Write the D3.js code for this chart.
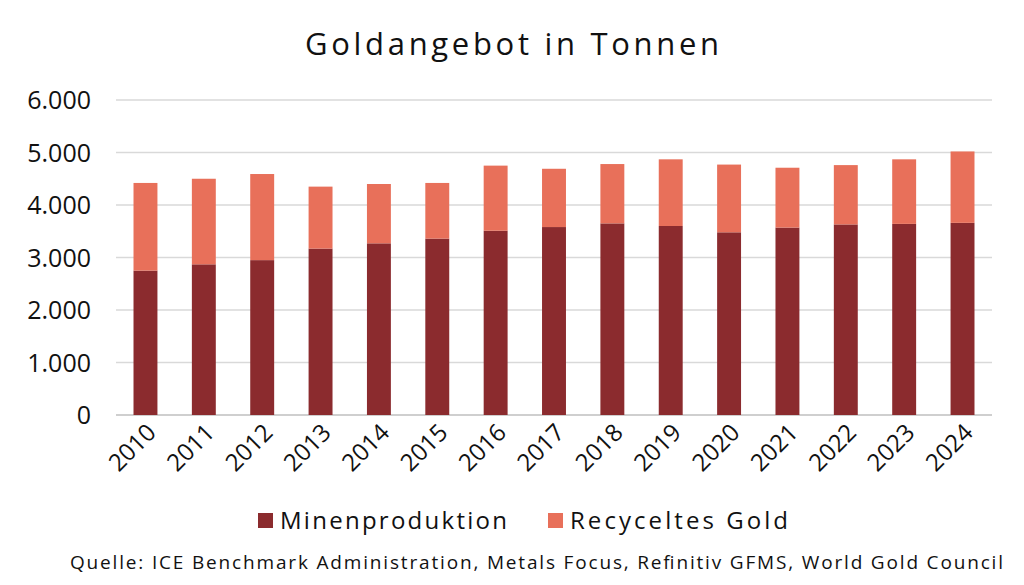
<!DOCTYPE html>
<html><head><meta charset="utf-8">
<script src="https://cdn.jsdelivr.net/npm/d3@7"></script>
<style>body{margin:0;background:#fff}text{font-family:"Open Sans",sans-serif}</style>
</head><body>
<script>
const years = ["2010","2011","2012","2013","2014","2015","2016","2017","2018","2019","2020","2021","2022","2023","2024"];
const mine = [2750,2870,2950,3170,3270,3360,3510,3580,3650,3600,3480,3570,3630,3640,3660];
const total = [4420,4500,4590,4350,4400,4420,4750,4690,4780,4870,4770,4710,4760,4870,5020];
const recycled = total.map((t,i)=>t-mine[i]);
const yTicks = [0,1000,2000,3000,4000,5000,6000];
const seriesNames = ["Minenproduktion","Recyceltes Gold"];
const colors = ["#8B2B2E","#E8705A"];

const W=1024,H=585;
const svg=d3.select("body").append("svg").attr("width",W).attr("height",H);
const x=d3.scaleBand().domain(years).range([116,992]).paddingInner(0.59).paddingOuter(0.3);
const y=d3.scaleLinear().domain([0,6000]).range([415,100]);
const fmt=d=>d3.format(",")(d).replace(/,/g,".");

svg.append("text").attr("x",512).attr("y",55).attr("text-anchor","middle")
  .attr("font-size",31).attr("fill","#111").attr("textLength",414).text("Goldangebot in Tonnen");

svg.append("g").selectAll("line").data(yTicks).join("line")
  .attr("x1",116).attr("x2",992).attr("y1",d=>y(d)).attr("y2",d=>y(d))
  .attr("stroke",d=>d===0?"#bfbfbf":"#d9d9d9").attr("stroke-width",1.3);
svg.append("g").selectAll("text").data(yTicks).join("text")
  .attr("x",91).attr("y",d=>y(d)+9).attr("text-anchor","end")
  .attr("font-size",25).attr("fill","#111").text(fmt);

const stack=d3.stack().keys([0,1]).value((d,k)=>k===0?mine[d]:recycled[d])(d3.range(years.length));
svg.append("g").selectAll("g").data(stack).join("g").attr("fill",(d,i)=>colors[i])
  .selectAll("rect").data(d=>d).join("rect")
  .attr("x",d=>x(years[d.data])).attr("width",x.bandwidth())
  .attr("y",d=>y(d[1])).attr("height",d=>y(d[0])-y(d[1]));

svg.append("g").selectAll("text").data(years).join("text")
  .attr("transform",d=>`translate(${x(d)+x.bandwidth()/2+12},${434}) rotate(-45)`)
  .attr("text-anchor","end").attr("font-size",24).attr("fill","#111").text(d=>d);

const leg=svg.append("g");
const lx=[258,548], lw=[227,218];
seriesNames.forEach((n,i)=>{
  leg.append("rect").attr("x",lx[i]).attr("y",513).attr("width",15).attr("height",15).attr("fill",colors[i]);
  leg.append("text").attr("x",lx[i]+22).attr("y",529).attr("font-size",24).attr("fill","#111")
    .attr("textLength",lw[i]).text(n);
});

svg.append("text").attr("x",70).attr("y",569)
  .attr("font-size",19).attr("fill","#111").attr("textLength",933)
  .text("Quelle: ICE Benchmark Administration, Metals Focus, Refinitiv GFMS, World Gold Council");
</script>
</body></html>
